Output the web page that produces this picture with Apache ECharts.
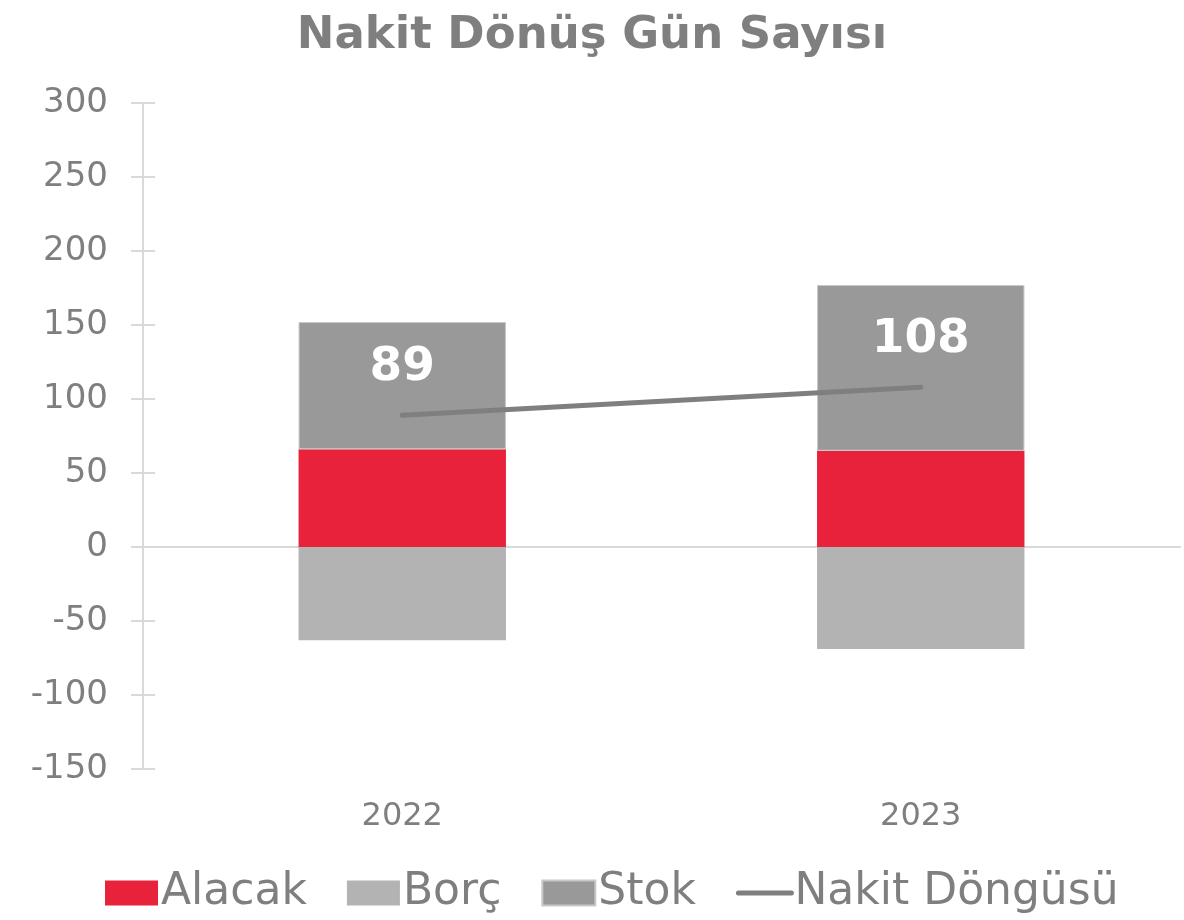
<!DOCTYPE html>
<html>
<head>
    <meta charset="utf-8">
    <title>Nakit Dönüş Gün Sayısı</title>
    <script src="https://cdn.jsdelivr.net/npm/echarts@6/dist/echarts.min.js"></script>
</head>
<body style="margin:0">
<div id="main" style="width: 1184px;height:920px;"></div>
<script type="text/javascript">
    var years = ['2022', '2023'];
    var alacak = [66, 65];
    var borc = [-63, -69];
    var stok = [86, 112];
    var nakit = [89, 108];

    var font = 'DejaVu Sans';
    var grey = '#7f7f7f';

    var myChart = echarts.init(document.getElementById('main'));
    var option = {
        textStyle: { fontFamily: font },
        title: {
            text: 'Nakit Dönüş Gün Sayısı',
            left: 'center',
            top: 9,
            textStyle: { fontFamily: font, fontSize: 45, fontWeight: 'bold', color: grey }
        },
        legend: {
            top: 866,
            left: 100,
            itemWidth: 53,
            itemHeight: 25,
            itemGap: 40,
            textStyle: { fontFamily: font, fontSize: 44, color: grey, padding: [0, 0, 0, -2] },
            data: [
                { name: 'Alacak', icon: 'rect' },
                { name: 'Borç', icon: 'rect' },
                { name: 'Stok', icon: 'rect' },
                {
                    name: 'Nakit Döngüsü',
                    itemStyle: { opacity: 0 },
                    lineStyle: { color: grey, width: 5, cap: 'round' }
                }
            ]
        },
        grid: { left: 143, right: 4, top: 103, bottom: 151 },
        xAxis: {
            type: 'category',
            data: years,
            axisLine: { onZero: true, lineStyle: { color: '#d9d9d9', width: 2 } },
            axisTick: { show: false },
            axisLabel: { show: false }
        },
        yAxis: [{
            type: 'value',
            min: -150,
            max: 300,
            interval: 50,
            splitLine: { show: false },
            axisLine: { show: true, lineStyle: { color: '#d9d9d9', width: 2 } },
            axisTick: { show: true, length: 12, lineStyle: { color: '#d9d9d9', width: 2 } },
            axisLabel: { fontFamily: font, fontSize: 34, color: grey, margin: 35 }
        }, {
            type: 'value',
            position: 'left',
            min: -150,
            max: 300,
            interval: 50,
            splitLine: { show: false },
            axisLine: { show: false },
            axisTick: { show: true, inside: true, length: 12, lineStyle: { color: '#d9d9d9', width: 2 } },
            axisLabel: { show: false }
        }],
        series: [{
            name: 'Alacak',
            type: 'bar',
            stack: 'ndg',
            barWidth: '40%',
            itemStyle: { color: '#e8223a' },
            data: alacak
        }, {
            name: 'Borç',
            type: 'bar',
            stack: 'ndg',
            itemStyle: { color: '#b3b3b3' },
            data: borc
        }, {
            name: 'Stok',
            type: 'bar',
            stack: 'ndg',
            itemStyle: { color: '#999999', borderColor: '#c8c8c8', borderWidth: 1 },
            data: stok
        }, {
            name: 'Nakit Döngüsü',
            type: 'line',
            symbol: 'circle',
            showSymbol: true,
            symbolSize: 0,
            itemStyle: { color: grey },
            lineStyle: { color: grey, width: 5, cap: 'round' },
            label: {
                show: true,
                position: 'top',
                distance: 24,
                fontFamily: font,
                fontSize: 47,
                fontWeight: 'bold',
                color: '#ffffff'
            },
            data: nakit,
            z: 5
        }],
        graphic: []
    };
    myChart.setOption(option);

    // year labels sit well below the plot bottom, so place them with the axis scale
    function placeYears() {
        var els = years.map(function (y, i) {
            var p = myChart.convertToPixel({ xAxisIndex: 0 }, y);
            return {
                type: 'text',
                x: p,
                y: 817,
                style: { text: y, fontFamily: font, fontSize: 32, fill: grey, align: 'center', verticalAlign: 'middle' }
            };
        });
        myChart.setOption({ graphic: els });
    }
    placeYears();
</script>
</body>
</html>
